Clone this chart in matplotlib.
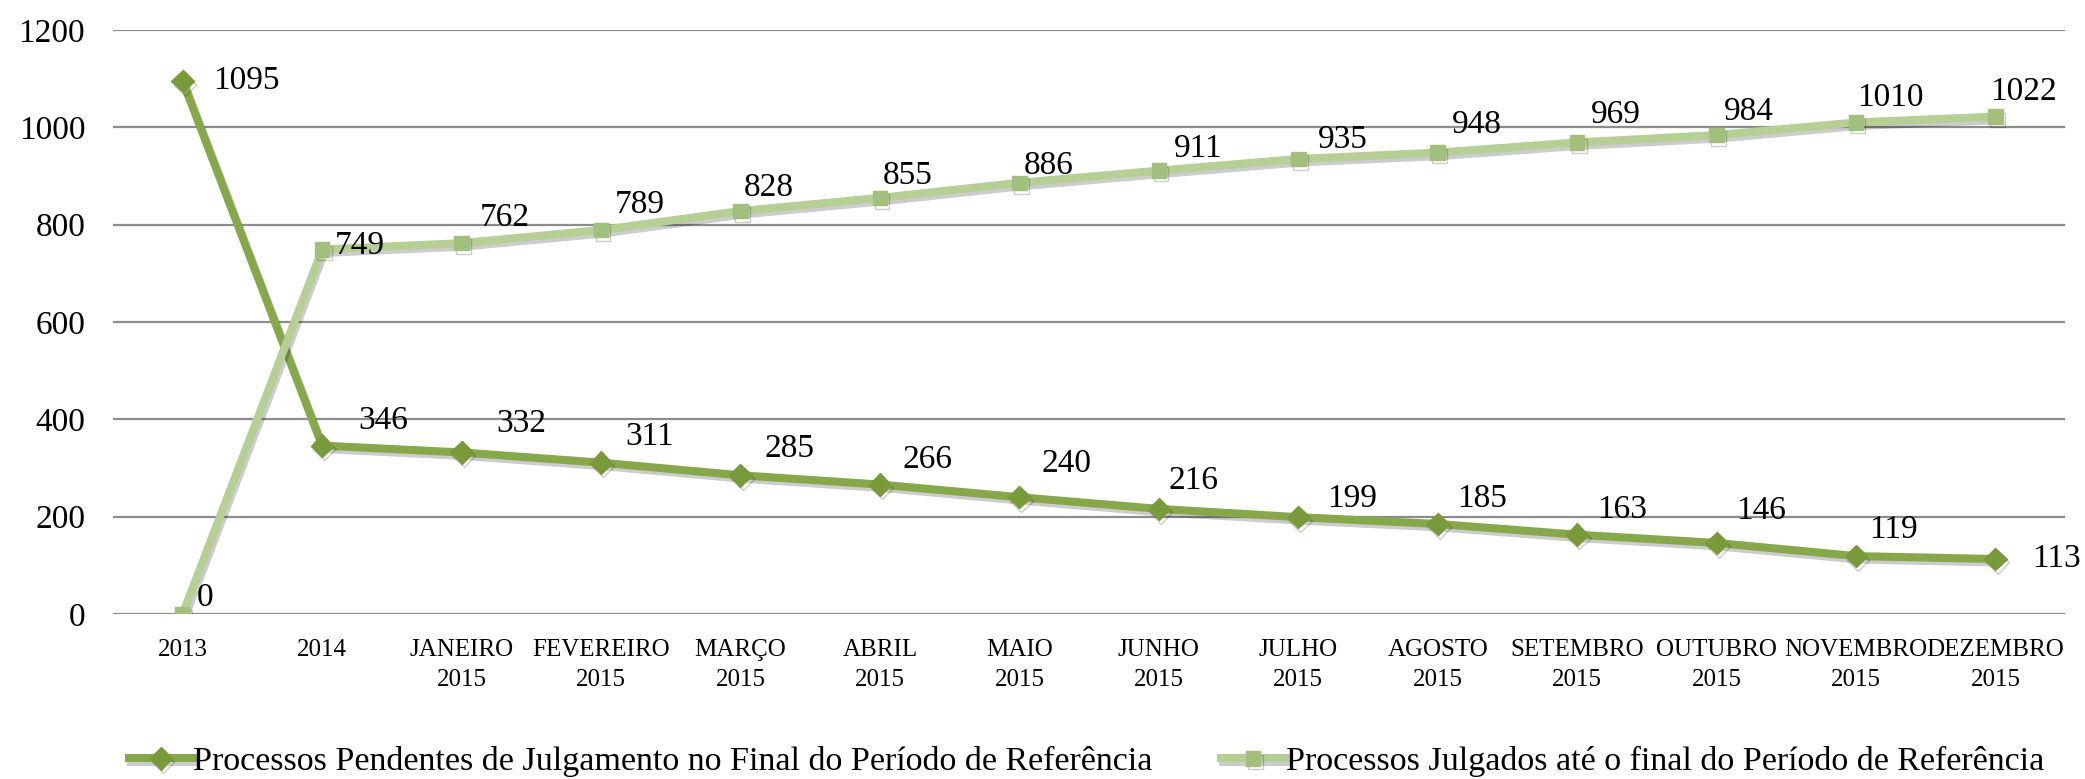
import matplotlib
matplotlib.use("Agg")
import matplotlib.pyplot as plt
import matplotlib.patheffects as pe

categories = ["2013", "2014", "JANEIRO\n2015", "FEVEREIRO\n2015", "MARÇO\n2015",
              "ABRIL\n2015", "MAIO\n2015", "JUNHO\n2015", "JULHO\n2015",
              "AGOSTO\n2015", "SETEMBRO\n2015", "OUTUBRO\n2015",
              "NOVEMBRO\n2015", "DEZEMBRO\n2015"]
pendentes = [1095, 346, 332, 311, 285, 266, 240, 216, 199, 185, 163, 146, 119, 113]
julgados = [0, 749, 762, 789, 828, 855, 886, 911, 935, 948, 969, 984, 1010, 1022]
label_pend = "Processos Pendentes de Julgamento no Final do Período de Referência"
label_julg = "Processos Julgados até o final do Período de Referência"

# label offsets in points (dx, dy)
off_pend = [(46, 0), (44, 18), (43, 21), (35, 19), (35, 19), (34, 18), (34, 24),
            (25, 20), (39, 13), (32, 18), (32, 18), (32, 23), (27, 19), (44, 0)]
off_julg = [(16, 12), (27, 3), (31, 18), (28, 18), (20, 17), (20, 16), (21, 12),
            (28, 16), (32, 14), (28, 20), (28, 20), (23, 17), (25, 18), (20, 18)]

dark = "#86A84A"
dark_m = "#789A3A"
light = "#B6CF95"
light_m = "#A2BF7E"
serif = ["Liberation Serif", "DejaVu Serif"]
plt.rcParams["font.family"] = serif

fig = plt.figure(figsize=(20.85, 7.79), dpi=100)
ax = fig.add_axes([0.0542, 0.2118, 0.9363, 0.7497])

x = list(range(len(categories)))
shadow = [pe.SimpleLineShadow(offset=(1.5, -2.5), alpha=0.2, shadow_color="black"), pe.Normal()]

ax.plot(x, pendentes, color=dark, lw=5.8, marker="D", markersize=11.5,
        markerfacecolor=dark_m, markeredgecolor=dark_m, label=label_pend,
        path_effects=shadow, zorder=3, solid_joinstyle="round")
ax.plot(x, julgados, color=light, lw=5.8, marker="s", markersize=10.5,
        markerfacecolor=light_m, markeredgecolor=light_m, label=label_julg,
        path_effects=shadow, zorder=4, solid_joinstyle="round")

for i, v in enumerate(pendentes):
    ax.annotate(str(v), (i, v), xytext=off_pend[i], textcoords="offset points",
                ha="center", va="center", fontsize=24, color="black", zorder=6)
for i, v in enumerate(julgados):
    ax.annotate(str(v), (i, v), xytext=off_julg[i], textcoords="offset points",
                ha="center", va="center", fontsize=24, color="black", zorder=6)

ax.set_xlim(-0.5, len(categories) - 0.5)
ax.set_ylim(0, 1200)
ax.set_yticks(range(0, 1201, 200))
ax.set_xticks(x)
ax.set_xticklabels(categories, fontsize=18, linespacing=1.45)
ax.tick_params(axis="y", labelsize=24, length=0, pad=20)
ax.tick_params(axis="x", length=0, pad=18)
ax.grid(axis="y", color="#8C8C8C", lw=1.6)
ax.set_axisbelow(True)
for s in ax.spines.values():
    s.set_visible(False)

handles, labels = ax.get_legend_handles_labels()
leg = fig.legend(handles, labels, loc="center", bbox_to_anchor=(0.521, 0.022),
                 ncol=2, frameon=False, fontsize=24.5, handlelength=1.9,
                 handletextpad=0.0, columnspacing=2.0)

fig.savefig("out.png", dpi=100)
